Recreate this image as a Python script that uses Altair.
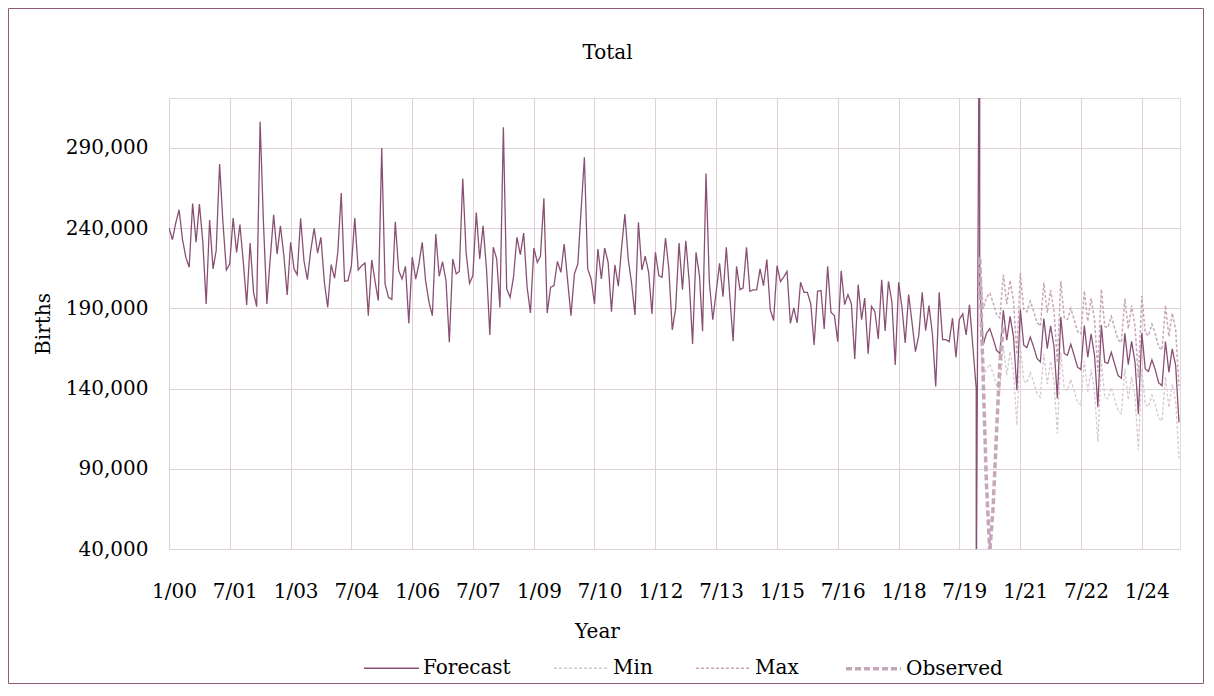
import altair as alt
import pandas as pd

# ---- data ----
months = [f"{2000 + i // 12}-{i % 12 + 1:02d}-01" for i in range(300)]

forecast = [
    240000, 232700, 242900, 251400, 233100, 221700, 215500, 255300, 231100, 254900,
    231100, 192700, 245000, 214500, 225900, 279800, 243500, 213800, 217600, 246200,
    224800, 242100, 218600, 192100, 230700, 199900, 191000, 306200, 243500, 192700,
    220700, 248300, 223800, 241400, 222800, 198300, 231100, 214500, 210900, 246000,
    219700, 207800, 225900, 239800, 224400, 234200, 206200, 190600, 217200, 208700,
    224800, 261800, 206800, 207200, 216100, 246200, 213800, 216500, 218200, 185400,
    220100, 206200, 194800, 289800, 205100, 196800, 195400, 243900, 213400, 208200,
    216100, 180600, 221900, 208200, 217200, 231100, 207200, 193700, 185400, 236300,
    209900, 219000, 207200, 168800, 220700, 211400, 213000, 270900, 224800, 205500,
    210300, 249700, 220700, 241400, 214500, 173400, 228000, 220700, 190400, 302700,
    202000, 196800, 209300, 234200, 223400, 236900, 203100, 187100, 227500, 218600,
    222400, 258500, 187000, 203100, 204100, 219200, 212400, 230000, 207200, 185400,
    211400, 217600, 249700, 284000, 214500, 208200, 192700, 226900, 208200, 227500,
    218600, 187900, 217000, 203700, 226900, 248700, 220700, 205100, 185800, 243500,
    213800, 222400, 212400, 186500, 224800, 210300, 209300, 233800, 214500, 176500,
    189600, 230700, 201600, 232100, 206200, 167800, 224800, 210300, 175700, 274000,
    206200, 182900, 199900, 218000, 197200, 228000, 197900, 169400, 216100, 201600,
    202600, 228000, 200600, 201400, 201400, 214500, 204100, 220300, 189200, 182300,
    216500, 206600, 209300, 213000, 180600, 190200, 180900, 206200, 199900, 199900,
    192700, 167200, 200600, 201000, 177100, 216100, 187500, 185400, 169200, 213400,
    192300, 198500, 192700, 158400, 204700, 182900, 196400, 161600, 191200, 187900,
    170900, 207800, 175900, 206800, 193700, 154700, 206200, 189600, 168400, 198500,
    181300, 163000, 173000, 199900, 176100, 191600, 174000, 141200, 199900, 170500,
    170500, 169200, 183800, 159500, 182900, 186500, 173400, 192100, 165700, 139800,
    205300, 167000, 174200, 177300, 171100, 163800, 161800, 188700, 170100, 185000,
    172100, 138900, 189400, 167000, 165500, 172100, 165900, 158700, 156600, 183600,
    164900, 179000, 165900, 133800, 184600, 161800, 160700, 167600, 160700, 153300,
    151800, 179200, 159500, 174000, 160500, 128400, 179600, 156400, 155700, 162600,
    155300, 148100, 146400, 174400, 154900, 169400, 156400, 124200, 174600, 152200,
    150600, 157800, 151800, 143500, 141800, 169200, 150100, 164700, 154300, 119000,
]

# the off-scale spike drawn by the forecast series at the turn of 2019/2020
spike_dates = ["2019-12-01", "2020-01-01"]
spike_values = [0, 440000]

max_values = [
    222000, 189500, 196500, 199500, 193500, 186000, 184000, 211000, 192500, 207300,
    194400, 161200, 212000, 189300, 187800, 194400, 188200, 181000, 178900, 205800,
    187200, 201300, 188200, 156100, 207000, 184100, 183000, 189900, 183000, 175600,
    174100, 200800, 181800, 196300, 182800, 150700, 201800, 178700, 178000, 184900,
    177600, 170400, 168700, 196000, 177200, 191700, 178700, 146500, 197700, 174500,
    172900, 180100, 174100, 165800, 164100, 191800, 172400, 187000, 176600, 141300,
]

min_values = [
    183300, 145000, 152200, 155300, 149100, 141800, 139800, 166700, 148100, 163000,
    150100, 117200, 167400, 145000, 143500, 150100, 143900, 136700, 134600, 161600,
    142900, 157000, 143900, 112000, 162600, 139800, 138700, 145600, 138700, 131300,
    129800, 157200, 137500, 152000, 138500, 106800, 157600, 134400, 133700, 140600,
    133300, 126100, 124400, 152400, 132900, 147400, 134400, 101600, 152600, 130200,
    128600, 135800, 129800, 121500, 119800, 147200, 128100, 142700, 132300, 96400,
]

observed = [221000, 148000, 82000, 38000, 66000, 113000, 156000, 180000]

series_names = ["Forecast", "Min", "Max", "Observed"]
y_ticks = [40000, 90000, 140000, 190000, 240000, 290000]
x_tick_months = [(2000, 1), (2001, 7), (2003, 1), (2004, 7), (2006, 1), (2007, 7),
                 (2009, 1), (2010, 7), (2012, 1), (2013, 7), (2015, 1), (2016, 7),
                 (2018, 1), (2019, 7), (2021, 1), (2022, 7), (2024, 1)]

# ---- table ----
rows = []
fc_dates = months[:240] + spike_dates + months[240:]
fc_vals = forecast[:240] + spike_values + forecast[240:]
for i, (d, v) in enumerate(zip(fc_dates, fc_vals)):
    rows.append({"date": d, "value": v, "series": "Forecast", "idx": i})
for i, (d, v) in enumerate(zip(months[240:], min_values)):
    rows.append({"date": d, "value": v, "series": "Min", "idx": i})
for i, (d, v) in enumerate(zip(months[240:], max_values)):
    rows.append({"date": d, "value": v, "series": "Max", "idx": i})
for i, (d, v) in enumerate(zip(months[240:248], observed)):
    rows.append({"date": d, "value": v, "series": "Observed", "idx": i})
df = pd.DataFrame(rows)

FONT = "DejaVu Serif"
GRID = "#ddd0d7"

x_vals = [alt.DateTime(year=y, month=m, date=1, utc=True) for y, m in x_tick_months]

legend = alt.Legend(
    title=None, orient="none", legendX=194, legendY=541, direction="horizontal",
    symbolType="stroke", symbolSize=3025, labelFont=FONT, labelFontSize=20,
    labelColor="#000000", labelOffset=3, columnPadding=40, padding=0,
)

lines = alt.Chart(df).mark_line(clip=True).encode(
    x=alt.X(
        "date:T",
        scale=alt.Scale(type="utc", domain=[
            alt.DateTime(year=2000, month=1, date=1, utc=True),
            alt.DateTime(year=2024, month=12, date=10, utc=True)]),
        axis=alt.Axis(
            values=x_vals, labelExpr="utcFormat(datum.value, '%-m/%y')",
            title="Year", titleFont=FONT, titleFontSize=20, titleFontWeight="normal",
            titleColor="#000000", titleX=428, titleY=72, titleBaseline="top",
            labelFont=FONT, labelFontSize=20, labelColor="#000000",
            labelPadding=32, labelOffset=5, labelFlush=False, labelOverlap=False,
            ticks=False, domain=False, grid=True, gridColor=GRID, gridWidth=1,
        ),
    ),
    y=alt.Y(
        "value:Q",
        scale=alt.Scale(domain=[40000, 321000], nice=False, zero=False),
        axis=alt.Axis(
            values=y_ticks, format=",.0f",
            title="Births", titleFont=FONT, titleFontSize=20, titleFontWeight="normal",
            titleColor="#000000", titleX=-116, titleY=225.5,
            labelFont=FONT, labelFontSize=20, labelColor="#000000", labelPadding=21,
            ticks=False, domain=False, grid=True, gridColor=GRID, gridWidth=1,
        ),
    ),
    color=alt.Color("series:N", scale=alt.Scale(
        domain=series_names, range=["#8a5074", "#d6c8cf", "#c6a8b8", "#c6a7b7"]),
        legend=legend),
    strokeDash=alt.StrokeDash("series:N", scale=alt.Scale(
        domain=series_names, range=[[1, 0], [3, 2], [3, 2], [6, 3]]), legend=legend),
    strokeWidth=alt.StrokeWidth("series:N", scale=alt.Scale(
        type="ordinal", domain=series_names, range=[1.3, 1.3, 1.5, 3.5]), legend=legend),
    order="idx:Q",
)

frame = alt.Chart(pd.DataFrame({"k": [0]})).mark_rect(
    filled=False, stroke="#8e5b7b", strokeWidth=1
).encode(
    x=alt.value(-160.5), x2=alt.value(1034.5),
    y=alt.value(-89.5), y2=alt.value(585.5),
)

chart = alt.layer(frame, lines).properties(
    width=1011, height=451,
    autosize=alt.AutoSizeParams(type="none"),
    padding={"left": 161, "top": 90, "right": 24, "bottom": 135},
    title=alt.TitleParams("Total", font=FONT, fontSize=20, fontWeight="normal",
                          color="#000000", offset=-55, dx=-67, anchor="middle"),
).configure_view(
    stroke="#d5c3cc", strokeWidth=2.5
).configure(background="white")

chart.save("out.html", embed_options={"renderer": "svg", "actions": False})
